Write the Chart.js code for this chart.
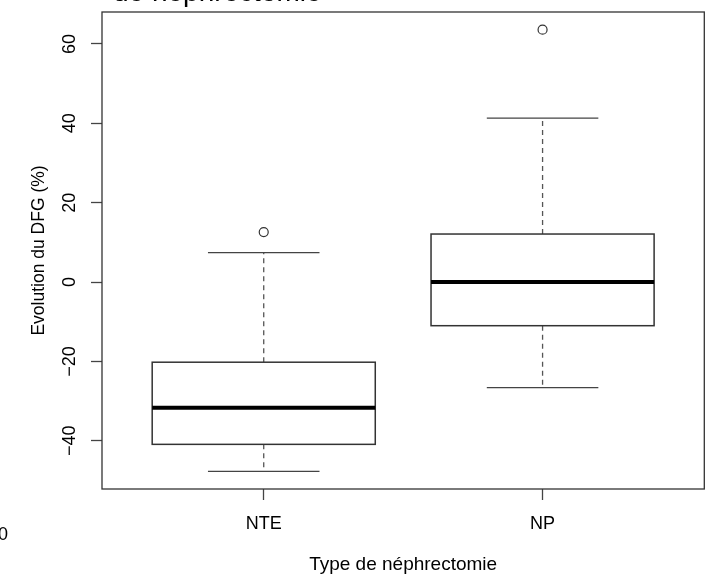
<!DOCTYPE html>
<html>
<head>
<meta charset="utf-8">
<script src="https://cdn.jsdelivr.net/npm/chart.js@4.4.0/dist/chart.umd.min.js"></script>
<style>
  html, body { margin: 0; padding: 0; background: #fff; }
  #wrap { width: 710px; height: 579px; }
</style>
</head>
<body>
<div id="wrap"><canvas id="boxChart" width="710" height="579"></canvas></div>
<script>
// BOXPLOT DATA
const categories = ['NTE', 'NP'];
const lowerWhisker = [-47.7, -26.6];
const q1 = [-40.9, -11.0];
const medians = [-31.7, 0.0];
const q3 = [-20.2, 12.1];
const upperWhisker = [7.4, 41.3];
const outliers = [[12.6], [63.6]];
const yTicks = [-40, -20, 0, 20, 40, 60];

const FONT = '"Liberation Sans", Arial, sans-serif';

const outlierPoints = [];
outliers.forEach((vals, i) => vals.forEach(v => outlierPoints.push({x: i + 1, y: v})));

// R-like plot limits: 4% extension of the data range
const allVals = lowerWhisker.concat(upperWhisker, outliers.flat());
const yLo = Math.min(...allVals), yHi = Math.max(...allVals);
const yPad = (yHi - yLo) * 0.04;
const xPad = (categories.length) * 0.04;

const boxPlugin = {
    id: 'boxes',
    beforeDatasetsDraw(chart) {
        const {ctx, scales: {x, y}} = chart;
        ctx.save();
        categories.forEach((c, i) => {
            const cx = x.getPixelForValue(i + 1);
            const bl = x.getPixelForValue(i + 1 - 0.4);
            const br = x.getPixelForValue(i + 1 + 0.4);
            const cl = x.getPixelForValue(i + 1 - 0.2);
            const cr = x.getPixelForValue(i + 1 + 0.2);
            const yq1 = y.getPixelForValue(q1[i]);
            const yq3 = y.getPixelForValue(q3[i]);
            const ylo = y.getPixelForValue(lowerWhisker[i]);
            const yhi = y.getPixelForValue(upperWhisker[i]);
            const ymed = y.getPixelForValue(medians[i]);

            // whiskers (dashed)
            ctx.strokeStyle = '#555';
            ctx.lineWidth = 1.3;
            ctx.setLineDash([5, 4]);
            ctx.beginPath();
            ctx.moveTo(cx, yq3); ctx.lineTo(cx, yhi);
            ctx.moveTo(cx, yq1); ctx.lineTo(cx, ylo);
            ctx.stroke();
            ctx.setLineDash([]);

            // caps
            ctx.strokeStyle = '#444';
            ctx.beginPath();
            ctx.moveTo(cl, yhi); ctx.lineTo(cr, yhi);
            ctx.moveTo(cl, ylo); ctx.lineTo(cr, ylo);
            ctx.stroke();

            // box
            ctx.fillStyle = '#fff';
            ctx.fillRect(bl, yq3, br - bl, yq1 - yq3);
            ctx.strokeStyle = '#333';
            ctx.lineWidth = 1.5;
            ctx.strokeRect(bl, yq3, br - bl, yq1 - yq3);

            // median
            ctx.strokeStyle = '#000';
            ctx.lineWidth = 4;
            ctx.beginPath();
            ctx.moveTo(bl, ymed); ctx.lineTo(br, ymed);
            ctx.stroke();
        });
        ctx.restore();
    },
    afterDraw(chart) {
        const {ctx, chartArea: a} = chart;
        ctx.save();
        ctx.strokeStyle = '#333';
        ctx.lineWidth = 1.3;
        ctx.strokeRect(a.left, a.top, a.right - a.left, a.bottom - a.top);

        // cut-off texts at the edges of the picture
        ctx.fillStyle = '#000';
        ctx.font = '28px ' + FONT;
        ctx.textAlign = 'left';
        ctx.textBaseline = 'alphabetic';
        ctx.fillText('de néphrectomie', 113, 1);
        ctx.font = '18px ' + FONT;
        ctx.textAlign = 'right';
        ctx.fillText('0', 8, 540);
        ctx.restore();
    }
};

new Chart(document.getElementById('boxChart'), {
    type: 'scatter',
    data: {
        datasets: [{
            label: 'Valeurs extrêmes',
            data: outlierPoints,
            pointStyle: 'circle',
            pointRadius: 4.5,
            pointHoverRadius: 4.5,
            pointBorderWidth: 1.2,
            pointBorderColor: '#333',
            pointBackgroundColor: '#fff'
        }]
    },
    options: {
        responsive: false,
        animation: false,
        layout: { padding: { top: 12, right: 4, left: 0, bottom: 0 } },
        plugins: {
            legend: { display: false },
            tooltip: { enabled: false }
        },
        scales: {
            x: {
                type: 'linear',
                min: 1 - 0.5 - xPad,
                max: categories.length + 0.5 + xPad,
                afterBuildTicks(scale) {
                    scale.ticks = categories.map((c, i) => ({value: i + 1}));
                },
                afterFit(scale) {
                    scale.height = 90;
                    scale.paddingLeft = 0;
                    scale.paddingRight = 0;
                },
                grid: {
                    drawOnChartArea: false,
                    drawTicks: true,
                    tickLength: 11,
                    tickColor: '#444',
                    tickWidth: 1.3
                },
                border: { display: false },
                ticks: {
                    autoSkip: false,
                    maxRotation: 0,
                    padding: 13,
                    color: '#000',
                    font: { family: FONT, size: 18 },
                    callback: (v) => categories[v - 1]
                },
                title: {
                    display: true,
                    text: 'Type de néphrectomie',
                    color: '#000',
                    font: { family: FONT, size: 19 },
                    padding: { top: 0, bottom: 3 }
                }
            },
            y: {
                min: yLo - yPad,
                max: yHi + yPad,
                afterBuildTicks(scale) {
                    scale.ticks = yTicks.map(v => ({value: v}));
                },
                afterFit(scale) {
                    scale.width = 102;
                    scale.paddingTop = 0;
                    scale.paddingBottom = 0;
                },
                grid: {
                    drawOnChartArea: false,
                    drawTicks: true,
                    tickLength: 11,
                    tickColor: '#444',
                    tickWidth: 1.3
                },
                border: { display: false },
                ticks: {
                    autoSkip: false,
                    minRotation: 90,
                    maxRotation: 90,
                    crossAlign: 'center',
                    padding: 6,
                    color: '#000',
                    font: { family: FONT, size: 18 },
                    callback: (v) => String(v).replace('-', '\u2212')
                },
                title: {
                    display: true,
                    text: 'Evolution du DFG (%)',
                    color: '#000',
                    font: { family: FONT, size: 17.5 },
                    padding: { top: 29, bottom: 0 }
                }
            }
        }
    },
    plugins: [boxPlugin]
});
</script>
</body>
</html>
